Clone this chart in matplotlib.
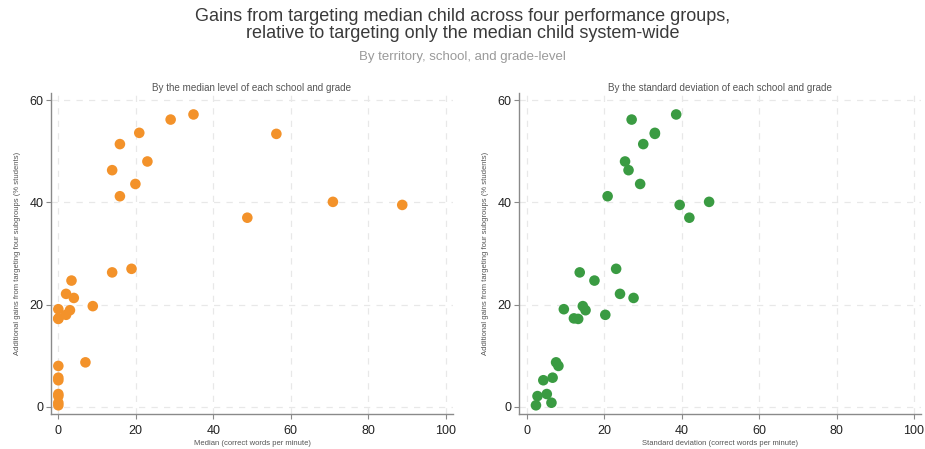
import matplotlib
matplotlib.use("Agg")
import matplotlib.pyplot as plt

plt.rcParams['font.family'] = ['Liberation Sans', 'DejaVu Sans']

gains = [57.2, 56.2, 53.6, 53.4, 51.4, 48.0, 46.3, 43.6, 41.2, 40.1, 39.5, 37.0,
         27.0, 26.3, 24.7, 22.1, 21.3, 19.7, 19.1, 18.9, 18.0, 17.3, 17.2,
         8.7, 8.0, 5.7, 5.2, 2.5, 2.1, 0.8, 0.3]
median_wpm = [34.9, 29.0, 20.9, 56.3, 15.9, 23.0, 13.9, 19.9, 15.9, 70.9, 88.8, 48.8,
              18.9, 13.9, 3.4, 2.0, 4.0, 8.9, 0.0, 3.0, 2.0, 0.0, 0.0,
              7.0, 0.0, 0.0, 0.0, 0.0, 0.0, 0.0, 0.0]
sd_wpm = [38.6, 27.1, 33.1, 33.1, 30.1, 25.4, 26.3, 29.3, 20.9, 47.1, 39.5, 42.0,
          23.1, 13.7, 17.5, 24.1, 27.6, 14.5, 9.6, 15.2, 20.3, 12.2, 13.3,
          7.6, 8.2, 6.7, 4.3, 5.2, 2.8, 6.4, 2.4]

x_ticks = [0, 20, 40, 60, 80, 100]
y_ticks = [0, 20, 40, 60]

title = ("Gains from targeting median child across four performance groups,\n"
         "relative to targeting only the median child system-wide")
subtitle = "By territory, school, and grade-level"
panel_titles = ["By the median level of each school and grade",
                "By the standard deviation of each school and grade"]
x_labels = ["Median (correct words per minute)",
            "Standard deviation (correct words per minute)"]
y_label = "Additional gains from targeting four subgroups (% students)"
colors = ["#F3922A", "#3A9B42"]

fig = plt.figure(figsize=(9.25, 4.49), dpi=100)
fig.patch.set_facecolor("white")

fig.text(0.5, 0.982, title, ha="center", va="top", fontsize=13,
         color="#3a3a3a", linespacing=0.98)
fig.text(0.5, 0.874, subtitle, ha="center", va="center", fontsize=9.5,
         color="#9a9a9a")

ax_pos = [[0.0551, 0.078, 0.4346, 0.7149], [0.5614, 0.078, 0.4347, 0.7149]]
xs = [median_wpm, sd_wpm]

for i in range(2):
    ax = fig.add_axes(ax_pos[i])
    ax.scatter(xs[i], gains, s=58, color=colors[i], edgecolors="none", zorder=3)
    ax.set_xlim(-1.9, 101.9)
    ax.set_ylim(-1.4, 61.4)
    ax.set_xticks(x_ticks)
    ax.set_yticks(y_ticks)
    ax.grid(True, color="#e8e8e8", linestyle=(0, (5, 5)), linewidth=0.9)
    ax.set_axisbelow(True)
    for s in ["top", "right"]:
        ax.spines[s].set_visible(False)
    for s in ["left", "bottom"]:
        ax.spines[s].set_color("#8a8a8a")
        ax.spines[s].set_linewidth(1.0)
    ax.tick_params(axis="both", colors="#8a8a8a", labelcolor="#222222",
                   labelsize=9, length=3.5, width=0.8)
    ax.tick_params(axis="x", pad=4.5)
    ax.tick_params(axis="y", pad=2)
    ax.set_title(panel_titles[i], fontsize=7.15, color="#555555", pad=1)
    ax.set_xlabel(x_labels[i], fontsize=5.5, color="#555555", labelpad=2)
    ax.set_ylabel(y_label, fontsize=5.5, color="#555555", labelpad=6)

fig.savefig("out.png", dpi=100)
